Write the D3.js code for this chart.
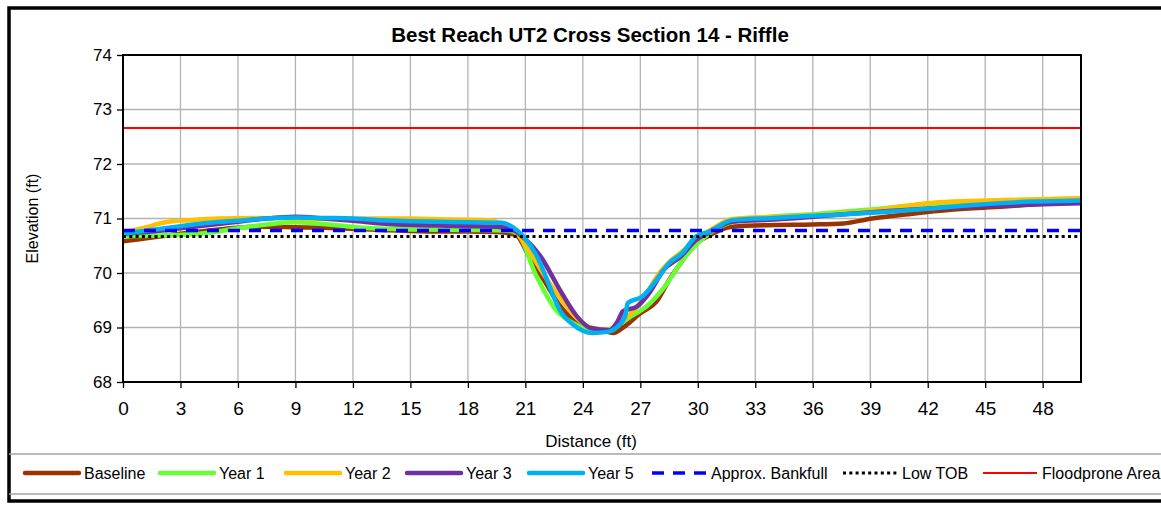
<!DOCTYPE html>
<html>
<head>
<meta charset="utf-8">
<script src="https://cdn.jsdelivr.net/npm/d3@7"></script>
<style>
  html, body { margin: 0; padding: 0; background: #fff; overflow: hidden; }
  svg { display: block; font-family: "Liberation Sans", Arial, sans-serif; }
</style>
</head>
<body>
<svg id="chart" width="1161" height="507"></svg>
<script>
// ---------- data ----------
const title = "Best Reach UT2 Cross Section 14 - Riffle";
const xTicks = [0, 3, 6, 9, 12, 15, 18, 21, 24, 27, 30, 33, 36, 39, 42, 45, 48];
const yTicks = [68, 69, 70, 71, 72, 73, 74];

const baselineX = [0,1.5,3,4.5,6,7.5,9,10.5,12,13.5,15,16.5,18,19.5,20.5,21.2,22,22.8,23.6,24.4,25.2,25.6,26.1,27,27.9,28.5,29.1,29.7,30.5,31.8,34,36,37.6,39.1,41,43.2,46,48,50];
const baselineY = [70.58,70.65,70.72,70.78,70.83,70.85,70.84,70.83,70.81,70.79,70.77,70.76,70.76,70.75,70.7,70.3,69.85,69.4,69.12,68.99,68.93,68.9,69.0,69.26,69.5,69.87,70.18,70.48,70.67,70.85,70.88,70.89,70.91,71.0,71.08,71.16,71.22,71.27,71.31];

const year1X = [0,2,4,6,8,9,11,13,15,18,20,20.6,21.5,22.6,23.5,24.4,24.9,25.6,26.5,27.3,28.4,29.1,29.8,30.4,31.5,33,36,38.8,42.3,46,50];
const year1Y = [70.68,70.69,70.72,70.82,70.91,70.93,70.88,70.82,70.8,70.79,70.78,70.72,70.0,69.32,69.08,68.95,68.92,69.0,69.2,69.38,69.81,70.18,70.48,70.67,70.9,71.0,71.08,71.16,71.27,71.3,71.33];

const year2X = [0,1,2.2,3.5,5,7,9,11,13,15,17,19,19.8,20.5,21.3,22,22.8,23.6,24.4,25.3,25.8,27,28,28.5,29.2,30,30.8,31.8,34,36,39,42.3,44,46,50];
const year2Y = [70.75,70.82,70.93,70.97,71.0,71.01,71.0,70.99,71.0,71.0,70.98,70.97,70.9,70.75,70.35,69.95,69.55,69.2,69.0,68.95,69.05,69.45,70.0,70.2,70.4,70.63,70.82,70.99,71.03,71.06,71.14,71.29,71.32,71.34,71.37];

const year3X = [0,1.5,3,4.5,6,7.5,9,10.5,12,13.5,15,16.5,18,19.5,20.3,21,21.8,22.8,23.7,24.4,25.4,25.8,26.1,26.8,27.5,28.2,29.1,29.9,30.5,31.8,34,37,40,43,46,50];
const year3Y = [70.72,70.76,70.82,70.88,70.94,71.0,71.03,71.0,70.96,70.91,70.88,70.87,70.86,70.85,70.8,70.62,70.3,69.69,69.2,68.99,68.95,69.1,69.3,69.38,69.65,70.05,70.3,70.6,70.73,70.94,70.98,71.06,71.14,71.2,71.24,71.28];

const year5X = [0,1.5,3,4.5,6,7.5,9,10.5,12,13.5,15,16.5,18,19.8,20.3,20.9,21.7,22.2,22.8,23.5,24.5,25.3,25.8,26.2,26.35,27.1,27.8,28.5,29.2,29.9,30.6,31.8,34,36,38.8,42,44,47.5,50];
const year5Y = [70.72,70.79,70.86,70.92,70.96,71.0,71.02,71.01,71.0,70.97,70.95,70.94,70.93,70.92,70.85,70.67,70.24,69.81,69.32,69.05,68.9,68.92,69.01,69.2,69.45,69.57,69.85,70.18,70.37,70.67,70.76,70.97,71.01,71.05,71.1,71.18,71.24,71.31,71.33];

const bankfullElev = 70.78;
const lowTobElev = 70.67;
const floodproneElev = 72.66;
const refX = [0, 50];

const seriesNames = ["Baseline", "Year 1", "Year 2", "Year 3", "Year 5"];
const seriesColors = ["#993300", "#66FF33", "#FFC000", "#7030A0", "#00B0F0"];
const seriesXs = [baselineX, year1X, year2X, year3X, year5X];
const seriesYs = [baselineY, year1Y, year2Y, year3Y, year5Y];

// ---------- layout ----------
const svg = d3.select("#chart");
const plot = { left: 123, top: 55, right: 1081, bottom: 382 };

const x = d3.scaleLinear().domain([0, 50]).range([plot.left, plot.right]);
const y = d3.scaleLinear().domain([68, 74]).range([plot.bottom, plot.top]);

svg.append("rect").attr("x", 0).attr("y", 0).attr("width", 1161).attr("height", 507).attr("fill", "#fff");

// outer border
svg.append("rect")
  .attr("x", 9).attr("y", 8).attr("width", 1170).attr("height", 493)
  .attr("fill", "none").attr("stroke", "#000").attr("stroke-width", 3.5);

// title
svg.append("text").attr("x", 590).attr("y", 42).attr("text-anchor", "middle")
  .attr("font-size", 20.5).attr("font-weight", "bold").text(title);

// grid
const grid = svg.append("g");
grid.selectAll("line.v").data(xTicks.filter(d => d > 0)).enter().append("line")
  .attr("x1", d => x(d)).attr("x2", d => x(d)).attr("y1", plot.top).attr("y2", plot.bottom)
  .attr("stroke", "#b3b3b3").attr("stroke-width", 1.3);
grid.selectAll("line.h").data(yTicks.filter(d => d > 68 && d < 74)).enter().append("line")
  .attr("x1", plot.left).attr("x2", plot.right).attr("y1", d => y(d)).attr("y2", d => y(d))
  .attr("stroke", "#b3b3b3").attr("stroke-width", 1.3);

// axes
const xAxis = d3.axisBottom(x).tickValues(xTicks).tickSize(6).tickPadding(14).tickFormat(d3.format("d"));
const gx = svg.append("g").attr("transform", `translate(0,${plot.bottom})`).call(xAxis);
gx.select(".domain").remove();
gx.selectAll(".tick line").attr("stroke", "#000").attr("stroke-width", 1.3);
gx.selectAll("text").attr("font-size", 19).attr("fill", "#000").attr("font-family", "Liberation Sans, Arial, sans-serif");

const yAxis = d3.axisLeft(y).tickValues(yTicks).tickSize(6).tickPadding(5).tickFormat(d3.format("d"));
const gy = svg.append("g").attr("transform", `translate(${plot.left},0)`).call(yAxis);
gy.select(".domain").remove();
gy.selectAll(".tick line").attr("stroke", "#000").attr("stroke-width", 1.3);
gy.selectAll("text").attr("font-size", 17).attr("fill", "#000").attr("font-family", "Liberation Sans, Arial, sans-serif");

// reference lines
const line = d3.line().x(d => x(d[0])).y(d => y(d[1]));
const smooth = d3.line().x(d => x(d[0])).y(d => y(d[1])).curve(d3.curveMonotoneX);
svg.append("path").datum(refX.map(v => [v, floodproneElev])).attr("d", line)
  .attr("fill", "none").attr("stroke", "#FF0000").attr("stroke-width", 2);

// series
svg.append("clipPath").attr("id", "clip").append("rect")
  .attr("x", plot.left).attr("y", plot.top).attr("width", plot.right - plot.left).attr("height", plot.bottom - plot.top);
const series = svg.append("g").attr("clip-path", "url(#clip)");
seriesNames.forEach((name, i) => {
  const pts = seriesXs[i].map((v, j) => [v, seriesYs[i][j]]);
  series.append("path").datum(pts).attr("d", smooth)
    .attr("fill", "none").attr("stroke", seriesColors[i]).attr("stroke-width", 4.5)
    .attr("stroke-linejoin", "round").attr("stroke-linecap", "round");
});

series.append("path").datum(refX.map(v => [v, lowTobElev])).attr("d", line)
  .attr("fill", "none").attr("stroke", "#000").attr("stroke-width", 3)
  .attr("stroke-dasharray", "3,3.3");
series.append("path").datum(refX.map(v => [v, bankfullElev])).attr("d", line)
  .attr("fill", "none").attr("stroke", "#0000FF").attr("stroke-width", 3.5)
  .attr("stroke-dasharray", "12,9");

// plot border
svg.append("rect").attr("x", plot.left).attr("y", plot.top)
  .attr("width", plot.right - plot.left).attr("height", plot.bottom - plot.top)
  .attr("fill", "none").attr("stroke", "#000").attr("stroke-width", 2);

// axis titles
svg.append("text").attr("transform", `translate(38,${(plot.top + plot.bottom) / 2}) rotate(-90)`)
  .attr("text-anchor", "middle").attr("font-size", 16).text("Elevation (ft)");
svg.append("text").attr("x", 591).attr("y", 447).attr("text-anchor", "middle")
  .attr("font-size", 17).text("Distance (ft)");

// legend box
svg.append("line").attr("x1", 9).attr("x2", 1161).attr("y1", 454).attr("y2", 454)
  .attr("stroke", "#a6a6a6").attr("stroke-width", 1.5);
svg.append("line").attr("x1", 9).attr("x2", 1161).attr("y1", 494).attr("y2", 494)
  .attr("stroke", "#a6a6a6").attr("stroke-width", 1.5);

const legendNames = seriesNames.concat(["Approx. Bankfull", "Low TOB", "Floodprone Area"]);
const legendColors = seriesColors.concat(["#0000FF", "#000", "#FF0000"]);
const legendStartX = [25, 160, 286, 407, 529, 652, 843, 983];
const legendWidths = [4.5, 4.5, 4.5, 4.5, 4.5, 3.5, 3, 2];
const legendDash = [null, null, null, null, null, "12,9", "3,3.3", null];
const legendY = 473;
const lg = svg.append("g");
legendNames.forEach((name, i) => {
  const x0 = legendStartX[i];
  const l = lg.append("line").attr("x1", x0).attr("x2", x0 + 54).attr("y1", legendY).attr("y2", legendY)
    .attr("stroke", legendColors[i]).attr("stroke-width", legendWidths[i]);
  if (legendDash[i]) l.attr("stroke-dasharray", legendDash[i]);
  else if (i < 5) l.attr("stroke-linecap", "round");
  lg.append("text").attr("x", x0 + 59).attr("y", legendY + 5.8)
    .attr("font-size", 16).text(name);
});
</script>
</body>
</html>
